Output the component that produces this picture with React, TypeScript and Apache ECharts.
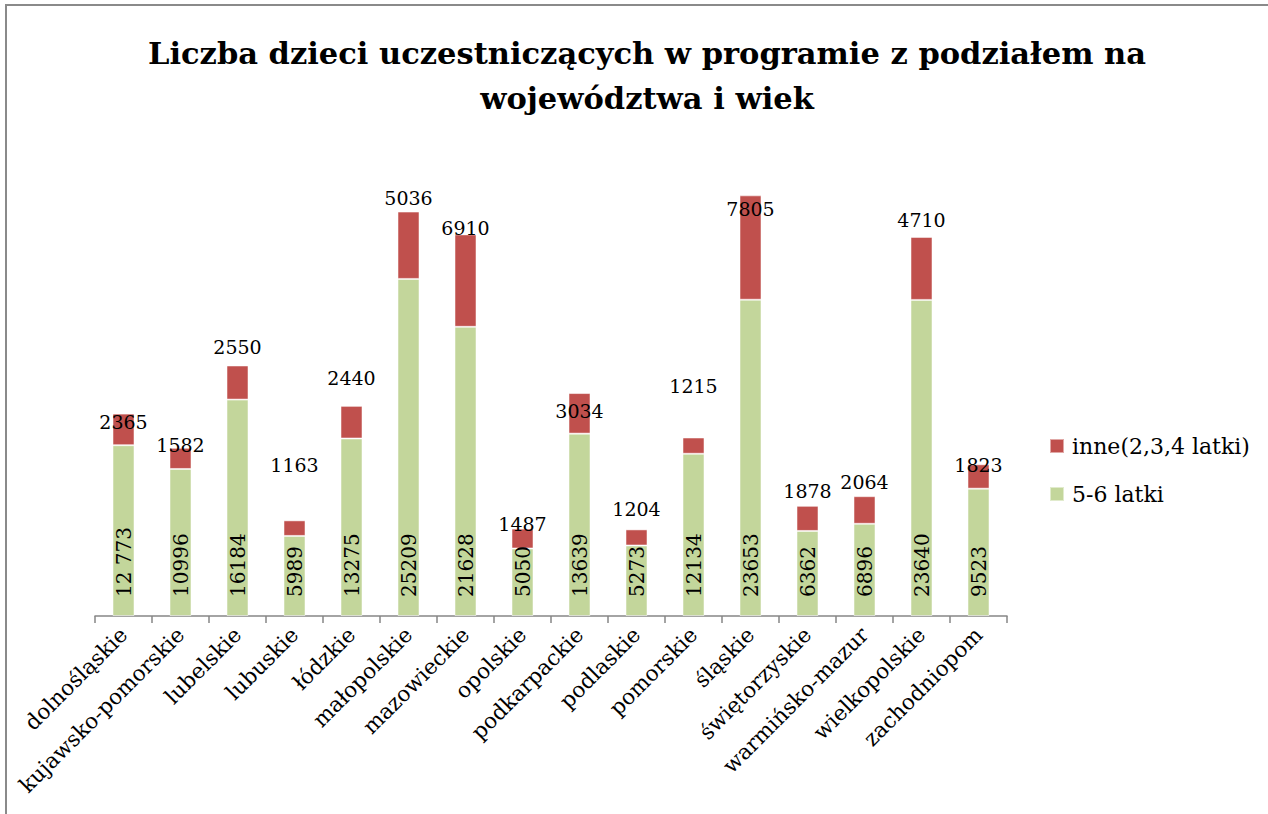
import React, { useEffect, useRef } from "react";
import * as echarts from "echarts";

const regions = [
  "dolnośląskie",
  "kujawsko-pomorskie",
  "lubelskie",
  "lubuskie",
  "łódzkie",
  "małopolskie",
  "mazowieckie",
  "opolskie",
  "podkarpackie",
  "podlaskie",
  "pomorskie",
  "śląskie",
  "świętorzyskie",
  "warmińsko-mazur",
  "wielkopolskie",
  "zachodniopom",
];

const kids56 = [12773, 10996, 16184, 5989, 13275, 25209, 21628, 5050, 13639, 5273, 12134, 23653, 6362, 6896, 23640, 9523];
const kids56Labels = ["12 773", "10996", "16184", "5989", "13275", "25209", "21628", "5050", "13639", "5273", "12134", "23653", "6362", "6896", "23640", "9523"];
const others = [2365, 1582, 2550, 1163, 2440, 5036, 6910, 1487, 3034, 1204, 1215, 7805, 1878, 2064, 4710, 1823];

const seriesNames = ["5-6 latki", "inne(2,3,4 latki)"];
const titleText = "Liczba dzieci uczestniczących w programie z podziałem na\nwojewództwa i wiek";

// vertical offsets (px) of the "inne" labels relative to the top of their bar
const otherLabelDy = [8, -3, -18, -55, -28, -14, -6, -5, 18, -20, -52, 14, -15, -14, -17, 1];

const FONT = "DejaVu Serif";

export default function App() {
  const ref = useRef<HTMLDivElement>(null);
  useEffect(() => {
    if (!ref.current) return;
    const chart = echarts.init(ref.current, null, { renderer: "svg" });
    chart.setOption({
      animation: false,
      backgroundColor: "#ffffff",
      title: {
        text: titleText,
        left: 642,
        textAlign: "center",
        top: 25,
        textStyle: {
          fontFamily: FONT,
          fontWeight: "bold",
          fontSize: 30.5,
          lineHeight: 45,
          color: "#000000",
        },
      },
      legend: {
        orient: "vertical",
        left: 1049,
        top: 435,
        padding: 0,
        itemWidth: 14,
        itemHeight: 14,
        itemGap: 26,
        icon: "rect",
        data: [seriesNames[1], seriesNames[0]],
        textStyle: {
          fontFamily: FONT,
          fontSize: 22,
          lineHeight: 22,
          color: "#000000",
          padding: [0, 0, 0, 3],
        },
      },
      grid: { left: 95, right: 261, top: 148, bottom: 198, containLabel: false },
      xAxis: {
        type: "category",
        data: regions,
        boundaryGap: true,
        axisLine: { show: true, lineStyle: { color: "#868686", width: 1.5 } },
        axisTick: { show: true, length: 7, interval: 0, lineStyle: { color: "#868686", width: 1.5 } },
        axisLabel: {
          interval: 0,
          rotate: 45,
          margin: 15,
          fontFamily: FONT,
          fontSize: 21.5,
          color: "#000000",
        },
      },
      yAxis: {
        type: "value",
        min: 0,
        max: 35000,
        show: false,
        splitLine: { show: false },
      },
      series: [
        {
          name: seriesNames[0],
          type: "bar",
          stack: "total",
          barWidth: 22,
          data: kids56,
          itemStyle: { color: "#c3d69b", borderColor: "rgba(255,255,255,0.5)", borderWidth: 1 },
          label: {
            show: true,
            position: "insideBottom",
            distance: 19,
            rotate: 90,
            align: "left",
            verticalAlign: "middle",
            fontFamily: FONT,
            fontSize: 20,
            color: "#000000",
            formatter: (p: any) => kids56Labels[p.dataIndex],
          },
        },
        {
          name: seriesNames[1],
          type: "bar",
          stack: "total",
          barWidth: 22,
          data: others.map((v, i) => ({
            value: v,
            label: { offset: [0, otherLabelDy[i]] },
          })),
          itemStyle: { color: "#c0504d", borderColor: "rgba(255,255,255,0.5)", borderWidth: 1 },
          label: {
            show: true,
            position: "top",
            distance: 0,
            align: "center",
            verticalAlign: "middle",
            fontFamily: FONT,
            fontSize: 19,
            color: "#000000",
          },
        },
      ],
      graphic: [
        {
          type: "polyline",
          shape: { points: [[6, 814], [6, 5], [1268, 5]] },
          style: { stroke: "#8a8a8a", lineWidth: 2, fill: "none" },
          silent: true,
        },
      ],
    });
    return () => chart.dispose();
  }, []);
  return (
    <div
      ref={ref}
      style={{ position: "fixed", left: 0, top: 0, width: 1268, height: 814 }}
    />
  );
}
